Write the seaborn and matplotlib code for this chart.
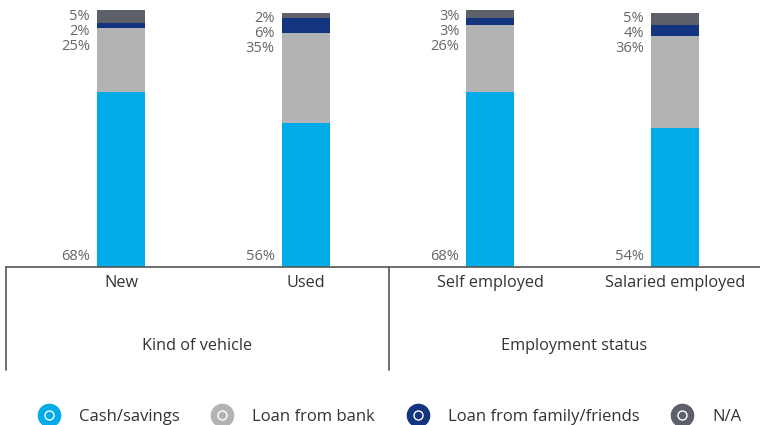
import numpy as np
import pandas as pd
import seaborn as sns
import matplotlib.pyplot as plt
from matplotlib.lines import Line2D

# data
categories = ["New", "Used", "Self employed", "Salaried employed"]
cash = [68, 56, 68, 54]
bank = [25, 35, 26, 36]
family = [2, 6, 3, 4]
na = [5, 2, 3, 5]
groups = ["Kind of vehicle", "Employment status"]
series_names = ["Cash/savings", "Loan from bank", "Loan from family/friends", "N/A"]
colors = ["#00abe7", "#b1b3b4", "#13347f", "#5d6068"]

sns.set_style("white")
plt.rcParams['font.family'] = ['Open Sans', 'DejaVu Sans']

df = pd.DataFrame({"cat": categories, "cash": cash, "bank": bank,
                   "family": family, "na": na})
df["c1"] = df["cash"]
df["c2"] = df["c1"] + df["bank"]
df["c3"] = df["c2"] + df["family"]
df["c4"] = df["c3"] + df["na"]

fig = plt.figure(figsize=(7.6, 4.25), dpi=100)
ax = fig.add_axes([6/760, 1-267/425, 754/760, 267/425])

# stacked bars: draw cumulative totals from the top layer down
for col, c in zip(["c4", "c3", "c2", "c1"], colors[::-1]):
    sns.barplot(data=df, x="cat", y=col, color=c, width=0.26, ax=ax,
                saturation=1, edgecolor="none", linewidth=0)

ax.set_xlim(-0.623, 3.46)
ax.set_ylim(0, 103.9)
ax.set_xlabel("")
ax.set_ylabel("")
ax.set_yticks([])
for s in ["top", "right", "left"]:
    ax.spines[s].set_visible(False)
ax.spines["bottom"].set_color("#555555")
ax.spines["bottom"].set_linewidth(1.2)
ax.tick_params(axis="x", length=0, pad=6, labelsize=11.7, labelcolor="#333333")

# value labels, left of each bar
lab_col = "#666666"
for i in range(len(categories)):
    xl = i - 0.13
    top = df["c4"][i]
    for k, v in enumerate([na[i], family[i], bank[i]]):
        ax.annotate(f"{v}%", xy=(xl, top), xytext=(-5, 1 - 10.8 * k),
                    textcoords="offset points", ha="right", va="top",
                    fontsize=10.5, color=lab_col)
    ax.annotate(f"{cash[i]}%", xy=(xl, 0), xytext=(-5, 2),
                textcoords="offset points", ha="right", va="bottom",
                fontsize=10.5, color=lab_col)

# group dividers and labels
tr = ax.get_xaxis_transform()
divs = [-0.623, 1.451, 3.46]
for d in divs[:2]:
    ax.plot([d, d], [0, -103/267], transform=tr, color="#555555",
            lw=1.2, clip_on=False)
for g, a, b in zip(groups, divs[:-1], divs[1:]):
    ax.text((a + b) / 2, -79/267, g, transform=tr, ha="center", va="center",
            fontsize=11.7, color="#333333")

# legend with ring markers
handles = []
for c in colors:
    outer = Line2D([], [], ls="none", marker="o", markersize=16,
                   markerfacecolor=c, markeredgecolor=c)
    inner = Line2D([], [], ls="none", marker="o", markersize=6.5,
                   markerfacecolor="none", markeredgecolor="white",
                   markeredgewidth=1)
    handles.append((outer, inner))
fig.legend(handles, series_names, loc="center", ncol=4,
           bbox_to_anchor=(0.512, 1 - 417/425), frameon=False, fontsize=12,
           labelcolor="#333333", handletextpad=1.1, columnspacing=1.86,
           handlelength=1.4)

fig.savefig("out.png", dpi=100)
